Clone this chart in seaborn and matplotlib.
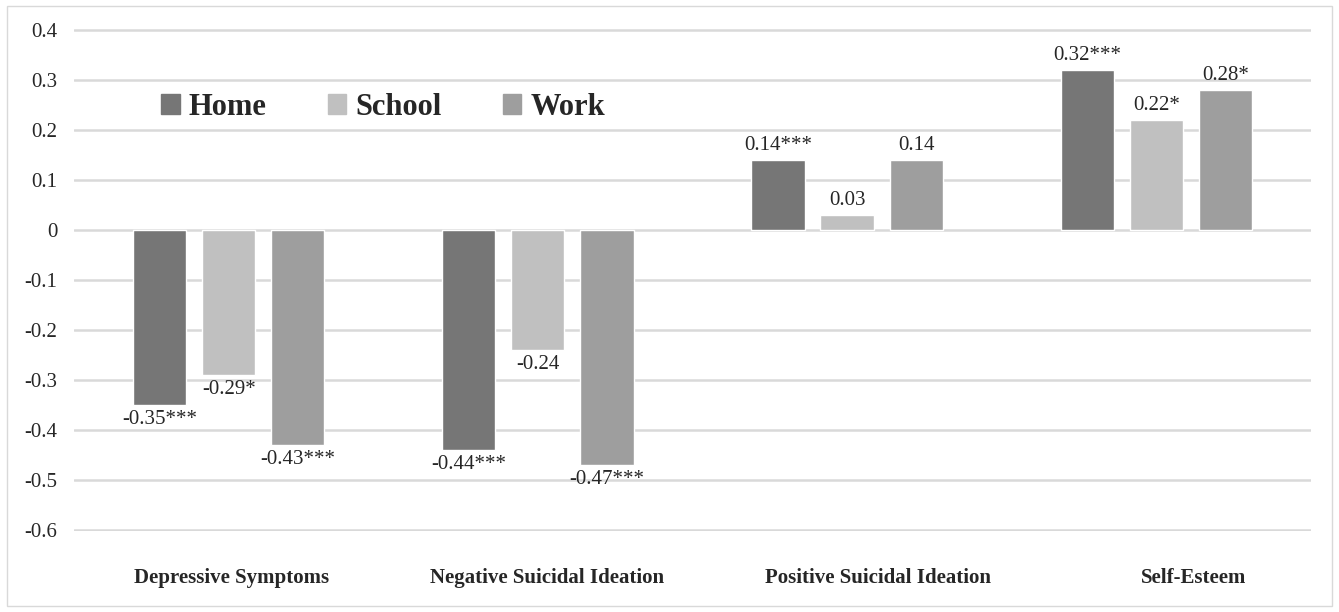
import pandas as pd
import matplotlib.pyplot as plt
import matplotlib.patches as mpatches
import seaborn as sns

# values
categories = ["Depressive Symptoms", "Negative Suicidal Ideation",
              "Positive Suicidal Ideation", "Self-Esteem"]
groups = ["Home", "School", "Work"]
home = [-0.35, -0.44, 0.14, 0.32]
school = [-0.29, -0.24, 0.03, 0.22]
work = [-0.43, -0.47, 0.14, 0.28]
home_labels = ["-0.35***", "-0.44***", "0.14***", "0.32***"]
school_labels = ["-0.29*", "-0.24", "0.03", "0.22*"]
work_labels = ["-0.43***", "-0.47***", "0.14", "0.28*"]
yticks = [0.4, 0.3, 0.2, 0.1, 0, -0.1, -0.2, -0.3, -0.4, -0.5, -0.6]
ytick_labels = ["0.4", "0.3", "0.2", "0.1", "0", "-0.1", "-0.2", "-0.3", "-0.4", "-0.5", "-0.6"]

df = pd.DataFrame({
    "Measure": categories * 3,
    "Setting": [g for g in groups for _ in categories],
    "Value": home + school + work,
})

sns.set_style("white")
plt.rcParams['font.family'] = ['Liberation Serif', 'DejaVu Serif']

palette = {"Home": "#767676", "School": "#c0c0c0", "Work": "#9e9e9e"}

fig = plt.figure(figsize=(13.39, 6.12), dpi=100)
ax = fig.add_axes([0.0553, 0.132, 0.9237, 0.821])

sns.barplot(data=df, x="Measure", y="Value", hue="Setting", order=categories,
            hue_order=groups, palette=palette, width=0.67, gap=0.23,
            saturation=1, ax=ax, zorder=3)

# tiny margin so the top and bottom gridlines are not clipped in half
ax.set_ylim(-0.603, 0.403)
ax.set_yticks(yticks)
ax.set_yticklabels(ytick_labels, fontsize=15)
ax.yaxis.grid(True, color="#d9d9d9", linewidth=1.8, zorder=0)
ax.set_axisbelow(True)
for s in ax.spines.values():
    s.set_visible(False)
ax.tick_params(axis="y", length=0, pad=12)
ax.tick_params(axis="x", length=0)
ax.set_xticklabels([""] * len(categories))
ax.set_xlabel("")
ax.set_ylabel("")

# category names sit a little right of the group centres in the original
label_shift = [0.01, 0.03, 0.1, 0.12]
for i, (name, dx) in enumerate(zip(categories, label_shift)):
    ax.text(i + dx, -0.696, name, transform=ax.transData, ha="center", va="center",
            fontsize=15, fontweight="bold", clip_on=False)

for cont, labs in zip(ax.containers, [home_labels, school_labels, work_labels]):
    ax.bar_label(cont, labels=labs, padding=4, fontsize=15)

handles = [mpatches.Patch(color=palette[g], label=g) for g in groups]
ax.legend(handles=handles, loc="center", bbox_to_anchor=(0.25, 0.844), ncol=3,
          frameon=False, prop={"weight": "bold", "size": 22},
          handlelength=0.6, handleheight=0.6, handletextpad=0.3,
          columnspacing=2.0)

fig.patches.append(mpatches.Rectangle((0.005, 0.01), 0.99, 0.98, transform=fig.transFigure,
                                      fill=False, edgecolor="#d9d9d9", linewidth=1))

fig.savefig("out.png", dpi=100)
